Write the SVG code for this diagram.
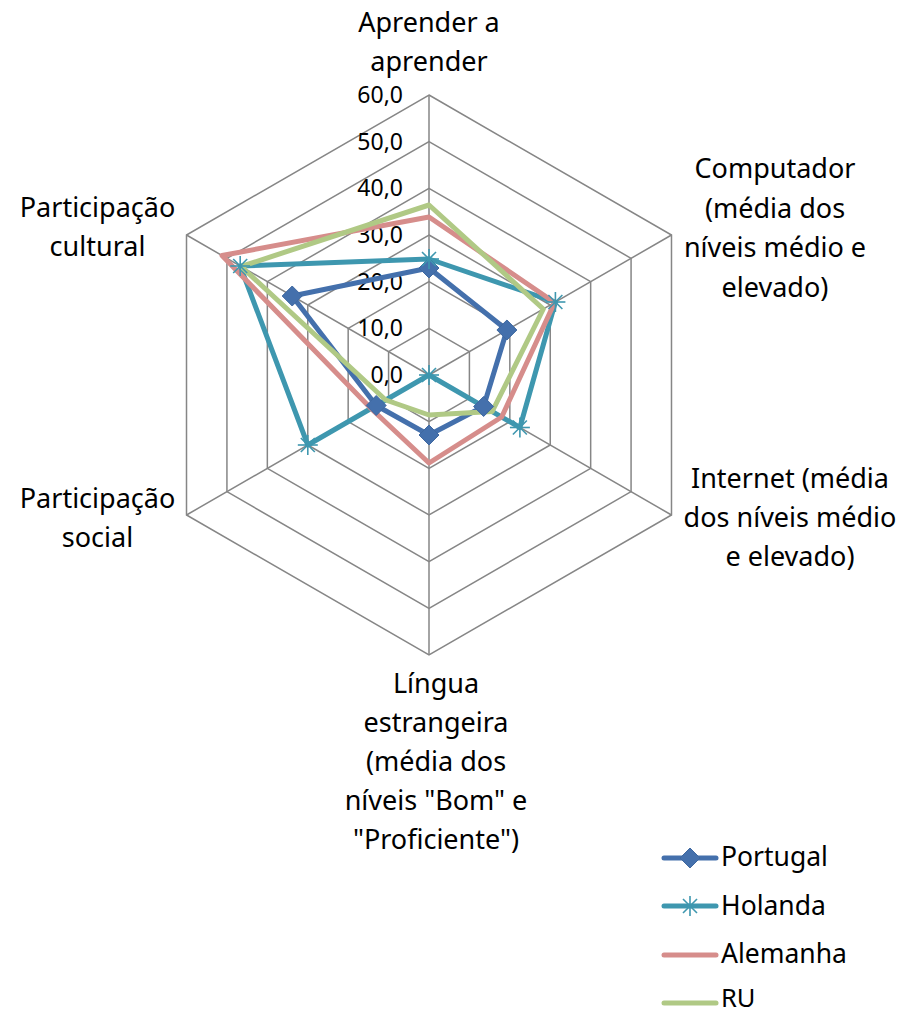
<svg xmlns="http://www.w3.org/2000/svg" xmlns:xlink="http://www.w3.org/1999/xlink" width="913" height="1013" viewBox="0 0 913 1013">
<style>
text{font-family:"Noto Sans","Open Sans",sans-serif;fill:#000}
.cat{font-size:27px;text-anchor:middle}
.tick{font-size:23px;text-anchor:end}
.leg{font-size:26.5px}
.grid{fill:none;stroke:#868686;stroke-width:1.5}
.ser{fill:none;stroke-width:5;stroke-linejoin:round;stroke-linecap:round}
.pt{stroke:#4470AC}
.nl{stroke:#3E97AF}
.de{stroke:#D68D8B}
.uk{stroke:#B0C985}
</style>
<defs>
<path id="dia" d="M0,-10 L10,0 L0,10 L-10,0Z" fill="#4470AC" stroke="#3F68A0" stroke-width="1"/>
<g id="star" stroke="#3E97AF" stroke-width="1.6" fill="none">
<line x1="0" y1="-10" x2="0" y2="10"/>
<line x1="-10" y1="0" x2="10" y2="0"/>
<line x1="-7" y1="-7" x2="7" y2="7"/>
<line x1="-7" y1="7" x2="7" y2="-7"/>
</g>
</defs>
<rect width="913" height="1013" fill="#fff"/>
<g id="grid">
<polygon class="grid" points="429,328.33 469.41,351.67 469.41,398.33 429,421.67 388.59,398.33 388.59,351.67"/>
<polygon class="grid" points="429,281.67 509.83,328.33 509.83,421.67 429,468.33 348.17,421.67 348.17,328.33"/>
<polygon class="grid" points="429,235 550.24,305 550.24,445 429,515 307.76,445 307.76,305"/>
<polygon class="grid" points="429,188.33 590.66,281.67 590.66,468.33 429,561.67 267.34,468.33 267.34,281.67"/>
<polygon class="grid" points="429,141.67 631.07,258.33 631.07,491.67 429,608.33 226.93,491.67 226.93,258.33"/>
<polygon class="grid" points="429,95 671.49,235 671.49,515 429,655 186.51,515 186.51,235"/>
<path class="grid" d="M429,375 L429,95 M429,375 L671.49,235 M429,375 L671.49,515 M429,375 L429,655 M429,375 L186.51,515 M429,375 L186.51,235"/>
</g>
<g id="ticks">
<text class="tick" x="403" y="103">60,0</text>
<text class="tick" x="403" y="149.7">50,0</text>
<text class="tick" x="403" y="196.3">40,0</text>
<text class="tick" x="403" y="243">30,0</text>
<text class="tick" x="403" y="289.7">20,0</text>
<text class="tick" x="403" y="336.3">10,0</text>
<text class="tick" x="403" y="383">0,0</text>
</g>
<g id="connectors">
<polygon id="s-portugal" class="ser pt" points="429,268 506.9,330 483.6,406.5 429,435 376.2,405.5 292.2,296"/>
<polygon id="s-holanda" class="ser nl" points="429,259 555.4,302 519.9,427.5 429,375 307.8,445 240.2,266"/>
<polygon id="s-alemanha" class="ser de" points="429,217 554.6,302.5 501.7,417 429,463 371,408.5 222,255.5"/>
<polygon id="s-ru" class="ser uk" points="429,205 543.3,309 492.2,411.5 429,415 385.7,400 241.1,266.5"/>
</g>
<g id="markers">
<use xlink:href="#dia" x="429" y="268"/>
<use xlink:href="#dia" x="506.9" y="330"/>
<use xlink:href="#dia" x="483.6" y="406.5"/>
<use xlink:href="#dia" x="429" y="435"/>
<use xlink:href="#dia" x="376.2" y="405.5"/>
<use xlink:href="#dia" x="292.2" y="296"/>
<use xlink:href="#star" x="429" y="259"/>
<use xlink:href="#star" x="555.4" y="302"/>
<use xlink:href="#star" x="519.9" y="427.5"/>
<use xlink:href="#star" x="429" y="375"/>
<use xlink:href="#star" x="307.8" y="445"/>
<use xlink:href="#star" x="240.2" y="266"/>
</g>
<g id="label-aprender">
<text class="cat" x="429" y="32">Aprender a</text>
<text class="cat" x="429" y="71">aprender</text>
</g>
<g id="label-computador">
<text class="cat" x="775" y="178">Computador</text>
<text class="cat" x="775" y="217.5">(média dos</text>
<text class="cat" x="775" y="257">níveis médio e</text>
<text class="cat" x="775" y="296.5">elevado)</text>
</g>
<g id="label-internet">
<text class="cat" x="790" y="488">Internet (média</text>
<text class="cat" x="790" y="527">dos níveis médio</text>
<text class="cat" x="790" y="566">e elevado)</text>
</g>
<g id="label-lingua">
<text class="cat" x="436" y="693">Língua</text>
<text class="cat" x="436" y="732">estrangeira</text>
<text class="cat" x="436" y="771">(média dos</text>
<text class="cat" x="436" y="810">níveis "Bom" e</text>
<text class="cat" x="436" y="849">"Proficiente")</text>
</g>
<g id="label-social">
<text class="cat" x="97.5" y="508">Participação</text>
<text class="cat" x="97.5" y="547">social</text>
</g>
<g id="label-cultural">
<text class="cat" x="97.5" y="217">Participação</text>
<text class="cat" x="97.5" y="256">cultural</text>
</g>
<g id="legend">
<line class="ser pt" x1="664" y1="858" x2="716" y2="858"/>
<use xlink:href="#dia" x="690" y="858"/>
<text class="leg" x="721" y="866">Portugal</text>
<line class="ser nl" x1="664" y1="906" x2="716" y2="906"/>
<use xlink:href="#star" x="690" y="906"/>
<text class="leg" x="721" y="915">Holanda</text>
<line class="ser de" x1="664" y1="955" x2="716" y2="955"/>
<text class="leg" x="721" y="963">Alemanha</text>
<line class="ser uk" x1="664" y1="1003" x2="716" y2="1003"/>
<text class="leg" x="721" y="1007" style="font-size:25.5px">RU</text>
</g>
</svg>
